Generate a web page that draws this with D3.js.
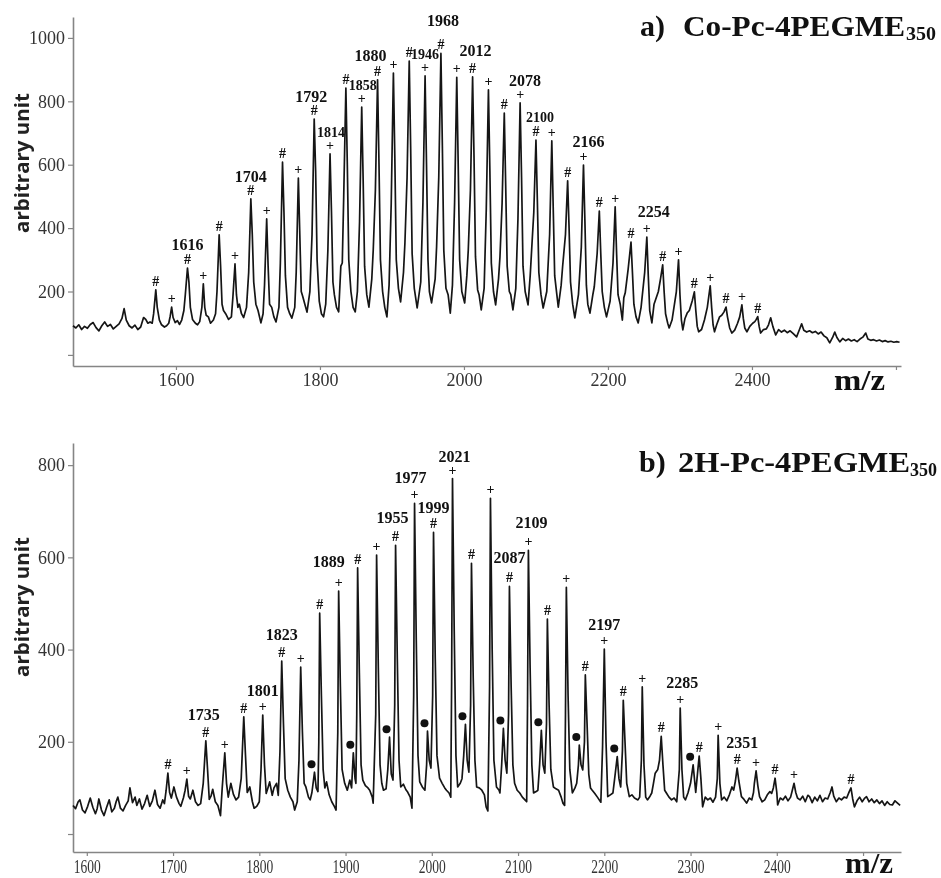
<!DOCTYPE html>
<html>
<head>
<meta charset="utf-8">
<script src="https://cdn.jsdelivr.net/npm/d3@7"></script>
<style>
  body { margin: 0; background: #fff; }
  svg { display: block; filter: grayscale(1); }
</style>
</head>
<body>
<div id="chart"></div>
<script>
// MALDI spectra, [m/z, intensity]

// a) Co-Pc-4PEGME350
const coTrace = [
  [1457,92],[1461,85],[1465,95],[1469,80],[1473,90],[1477,84],[1481,96],[1485,102],[1489,86],[1493,76],[1497,92],[1501,104],[1505,90],[1509,96],[1513,82],[1517,90],[1521,98],[1525,115],[1528,146],[1531,110],[1535,92],[1539,85],[1543,94],[1547,80],[1551,88],[1555,118],[1558,112],[1561,100],[1564,104],
  [1567,100],[1569,130],[1572,205],[1574,150],[1577,110],[1580,95],[1584,88],[1587,92],
  [1590,100],[1592,122],[1594,151],[1596,118],[1599,102],[1602,108],[1605,96],[1608,110],
  [1611,140],[1613,190],[1616,274],[1618,230],[1620,150],[1623,112],[1627,100],[1630,95],
  [1633,105],[1636,150],[1638,224],[1640,150],[1642,125],[1645,120],[1648,100],[1652,110],
  [1655,130],[1657,200],[1660,379],[1662,280],[1664,160],[1666,140],[1669,130],[1673,112],
  [1677,120],[1679,180],[1682,287],[1684,190],[1686,150],[1688,160],[1691,130],[1694,118],
  [1698,150],[1701,260],[1704,492],[1706,380],[1708,230],[1711,160],[1714,140],[1718,101],
  [1721,130],[1723,220],[1726,429],[1728,280],[1730,160],[1733,150],[1736,120],[1739,104],
  [1743,150],[1745,290],[1748,608],[1750,450],[1752,250],[1755,150],[1758,130],[1761,116],
  [1765,150],[1767,260],[1770,558],[1772,380],[1774,200],[1776,185],[1779,160],[1782,135],
  [1786,200],[1789,380],[1792,744],[1794,580],[1796,300],[1799,170],[1802,130],[1805,120],
  [1808,160],[1811,330],[1814,634],[1816,450],[1818,230],[1820,190],[1823,150],[1826,136],
  [1829,280],[1831,290],[1833,500],[1836,842],[1838,600],[1840,300],[1843,200],[1846,150],[1849,136],
  [1852,200],[1855,420],[1858,782],[1860,550],[1862,280],[1865,190],[1868,151],
  [1872,240],[1874,331],[1877,520],[1880,868],[1882,600],[1884,300],[1887,200],[1890,150],[1893,120],
  [1896,220],[1899,480],[1902,889],[1904,620],[1906,300],[1909,210],[1912,167],
  [1916,260],[1918,353],[1921,560],[1924,927],[1926,650],[1928,320],[1931,210],[1935,148],
  [1940,230],[1943,480],[1946,880],[1948,600],[1950,300],[1952,200],[1955,164],
  [1960,240],[1962,341],[1965,560],[1968,951],[1970,660],[1972,330],[1975,210],[1978,190],[1981,132],
  [1984,220],[1987,480],[1990,876],[1992,600],[1994,300],[1997,200],[2001,164],
  [2004,250],[2006,331],[2009,520],[2012,877],[2014,620],[2016,310],[2019,205],[2021,190],[2024,142],
  [2028,210],[2031,460],[2034,836],[2036,580],[2038,290],[2041,200],[2044,158],
  [2048,240],[2050,309],[2053,480],[2056,763],[2058,530],[2060,280],[2063,200],[2065,190],[2068,142],
  [2072,210],[2075,430],[2078,795],[2080,560],[2082,280],[2085,200],[2089,158],
  [2092,250],[2094,331],[2097,450],[2100,678],[2102,480],[2104,260],[2107,190],[2110,148],
  [2115,200],[2119,380],[2122,675],[2124,460],[2126,250],[2129,190],[2131,151],
  [2135,220],[2137,278],[2141,380],[2144,549],[2146,400],[2148,230],[2151,160],[2154,117],
  [2159,190],[2163,340],[2166,599],[2168,420],[2170,220],[2172,160],[2175,132],
  [2179,190],[2181,215],[2185,320],[2188,454],[2190,320],[2192,200],[2195,150],[2198,120],
  [2203,170],[2207,290],[2210,467],[2212,320],[2214,190],[2217,160],[2220,110],
  [2222,180],[2224,196],[2228,270],[2232,356],[2234,260],[2236,160],[2239,120],[2242,101],
  [2246,150],[2251,260],[2254,372],[2256,250],[2258,140],[2261,101],
  [2264,160],[2266,173],[2270,200],[2273,240],[2276,284],[2278,200],[2280,130],[2283,100],[2285,85],
  [2289,110],[2295,200],[2298,300],[2300,190],[2302,110],[2304,79],
  [2307,115],[2310,132],[2313,140],[2317,170],[2320,199],[2322,140],[2324,90],[2326,73],
  [2330,80],[2334,110],[2338,150],[2342,218],[2344,150],[2346,95],[2348,73],
  [2351,95],[2355,120],[2358,125],[2361,135],[2364,151],[2366,120],[2369,85],[2372,69],
  [2376,78],[2380,100],[2383,120],[2386,158],[2388,115],[2390,85],[2393,73],
  [2397,90],[2401,100],[2404,105],[2406,112],[2408,121],[2410,90],[2412,69],
  [2416,80],[2420,82],[2423,95],[2426,117],[2429,90],[2433,63],[2437,80],[2441,72],[2445,78],[2449,70],[2453,76],[2457,68],
  [2462,57],[2466,80],[2469,98],[2472,78],[2476,72],[2480,76],[2484,70],[2488,74],[2492,66],[2496,72],[2500,60],[2504,54],
  [2508,38],[2512,55],[2515,72],[2518,55],[2522,41],[2526,52],[2530,45],[2534,50],[2538,44],[2542,48],[2546,42],[2550,50],
  [2554,56],[2558,69],[2561,50],[2565,46],[2569,48],[2573,44],[2577,47],[2581,42],[2585,45],[2589,41],[2593,43],[2597,40],[2601,42],[2605,40]
];

const coPeaks = [
  [1572,"#"],[1594,"+"],[1616,"#"],[1638,"+"],[1660,"#"],[1682,"+"],[1704,"#"],[1726,"+"],
  [1748,"#"],[1770,"+"],[1792,"#"],[1814,"+"],[1836,"#"],[1858,"+"],[1880,"#"],[1902,"+"],
  [1924,"#"],[1946,"+"],[1968,"#"],[1990,"+"],[2012,"#"],[2034,"+"],[2056,"#"],[2078,"+"],
  [2100,"#"],[2122,"+"],[2144,"#"],[2166,"+"],[2188,"#"],[2210,"+"],[2232,"#"],[2254,"+"],
  [2276,"#"],[2298,"+"],[2320,"#"],[2342,"+"],[2364,"#"],[2386,"+"],[2408,"#"]
];

const coLabels = [
  ["1616",1616],["1704",1704],["1792",1792],["1814",1814],["1858",1858],["1880",1880],
  ["1946",1946],["1968",1968],["2012",2012],["2078",2078],["2100",2100],["2166",2166],["2254",2254]
];

// b) 2H-Pc-4PEGME350
const h2Trace = [
  [1584,62],[1587,55],[1590,70],[1592,74],[1595,52],[1598,46],[1601,60],[1604,78],[1607,58],[1610,44],[1612,55],[1614,76],[1617,52],[1620,40],
  [1623,58],[1626,74],[1629,48],[1632,56],[1634,70],[1636,80],[1639,56],[1642,50],[1645,62],[1648,72],[1650,100],[1653,68],[1656,80],[1658,62],
  [1661,76],[1664,54],[1667,66],[1670,84],[1673,60],[1676,72],[1679,95],[1682,64],[1685,56],[1688,74],[1690,66],
  [1692,95],[1694,132],[1696,90],[1698,78],[1701,102],[1704,80],[1707,66],[1709,60],
  [1712,78],[1714,95],[1716,119],[1718,82],[1720,76],[1723,95],[1726,70],[1729,62],[1732,66],
  [1735,110],[1738,202],[1740,140],[1742,75],[1744,82],[1746,97],[1749,70],[1752,62],[1755,40],
  [1757,100],[1760,176],[1762,110],[1764,80],[1767,110],[1770,86],[1773,74],[1776,80],
  [1779,120],[1782,254],[1784,170],[1786,90],[1789,102],[1792,70],[1794,56],[1797,60],[1800,70],
  [1802,140],[1804,258],[1806,150],[1808,88],[1810,100],[1812,113],[1815,84],[1817,100],[1820,110],[1822,84],
  [1824,180],[1826,375],[1828,240],[1830,120],[1833,95],[1836,80],[1839,70],[1841,52],[1844,70],
  [1846,160],[1848,362],[1850,220],[1852,110],[1854,102],[1857,80],[1859,74],[1861,90],[1864,134],[1866,100],[1868,92],
  [1869,200],[1870,479],[1872,300],[1874,140],[1876,100],[1878,113],[1881,85],[1884,70],[1887,60],[1889,52],
  [1891,220],[1892,527],[1894,320],[1896,140],[1899,110],[1902,95],[1905,117],[1907,100],[1909,176],[1911,120],[1912,110],
  [1913,260],[1914,577],[1916,350],[1918,150],[1920,117],[1923,105],[1926,100],[1928,95],[1931,80],[1932,67],
  [1935,260],[1936,605],[1938,360],[1940,150],[1942,110],[1944,95],[1947,98],[1949,140],[1951,210],[1953,130],[1955,117],
  [1957,280],[1958,626],[1960,380],[1962,160],[1964,102],[1967,108],[1970,96],[1972,91],[1975,80],[1977,56],
  [1979,300],[1980,717],[1982,420],[1984,170],[1986,113],[1989,102],[1992,95],[1994,150],[1995,223],[1997,160],[1999,143],
  [2001,300],[2002,654],[2004,380],[2006,170],[2009,121],[2012,110],[2015,100],[2017,95],[2020,89],[2022,80],
  [2023,330],[2024,771],[2026,440],[2028,170],[2030,102],[2033,110],[2035,120],[2037,170],[2039,238],[2041,160],[2043,134],
  [2045,280],[2046,587],[2048,340],[2050,160],[2052,102],[2055,100],[2058,95],[2061,85],[2063,59],[2065,50],
  [2067,320],[2068,728],[2070,400],[2072,160],[2075,102],[2078,95],[2079,89],[2081,150],[2083,229],[2085,160],[2087,132],
  [2089,260],[2090,537],[2092,320],[2094,150],[2096,110],[2099,95],[2102,89],[2105,80],[2108,74],[2110,70],
  [2111,280],[2112,615],[2114,360],[2116,150],[2118,89],[2121,92],[2123,95],[2125,150],[2127,225],[2129,150],[2131,132],
  [2133,240],[2134,466],[2136,280],[2138,140],[2141,102],[2144,98],[2147,95],[2150,80],[2152,67],[2154,62],
  [2155,260],[2156,535],[2158,300],[2160,140],[2163,89],[2166,100],[2168,110],[2170,150],[2171,193],[2173,150],[2175,139],
  [2177,200],[2178,345],[2180,240],[2182,130],[2184,100],[2186,95],[2189,88],[2192,80],[2196,69],
  [2198,190],[2200,401],[2202,200],[2204,81],[2207,85],[2210,89],[2212,120],[2215,168],[2217,120],[2219,102],
  [2221,180],[2222,290],[2224,200],[2226,110],[2229,81],[2232,85],[2235,78],[2239,74],[2241,80],
  [2243,160],[2244,319],[2246,150],[2248,80],[2250,74],[2253,82],[2255,89],[2257,110],[2259,132],[2262,140],
  [2264,160],[2266,212],[2268,150],[2270,95],[2272,89],[2275,80],[2278,74],[2281,78],[2284,70],
  [2287,140],[2288,273],[2290,140],[2292,80],[2294,74],[2297,89],[2300,110],[2303,150],[2305,110],[2306,90],
  [2308,130],[2310,169],[2312,120],[2314,59],[2317,80],[2320,74],[2323,78],[2326,69],[2329,80],
  [2331,120],[2332,214],[2334,110],[2336,74],[2339,80],[2342,72],[2345,85],[2348,102],[2350,95],
  [2352,115],[2354,143],[2356,115],[2359,81],[2362,75],[2365,67],[2368,78],[2371,74],[2373,90],
  [2374,110],[2376,137],[2378,105],[2380,81],[2383,70],[2386,74],[2389,85],[2392,92],[2394,88],
  [2396,100],[2398,121],[2400,90],[2401,63],[2404,78],[2407,74],[2410,82],[2413,72],[2416,80],
  [2418,95],[2420,110],[2422,90],[2424,78],[2427,74],[2430,82],[2433,70],[2436,84],[2438,81],[2441,68],[2444,80],[2447,72],
  [2450,84],[2453,70],[2456,78],[2459,76],[2462,90],[2464,102],[2466,82],[2469,70],[2472,78],[2475,74],[2478,80],[2481,78],
  [2484,92],[2486,100],[2488,76],[2490,59],[2493,72],[2496,80],[2499,70],[2502,78],[2504,81],[2507,70],[2510,76],[2513,68],
  [2516,74],[2519,66],[2522,72],[2525,62],[2528,70],[2531,64],[2534,63],[2537,72],[2540,67],[2543,62]
];

const h2Peaks = [
  [1694,"#"],[1716,"+"],[1738,"#"],[1760,"+"],[1782,"#"],[1804,"+"],[1826,"#"],[1848,"+"],
  [1870,"#"],[1892,"+"],[1914,"#"],[1936,"+"],[1958,"#"],[1980,"+"],[2002,"#"],[2024,"+"],
  [2046,"#"],[2068,"+"],[2090,"#"],[2112,"+"],[2134,"#"],[2156,"+"],[2178,"#"],[2200,"+"],
  [2222,"#"],[2244,"+"],[2266,"#"],[2288,"+"],[2310,"#"],[2332,"+"],[2354,"#"],[2376,"+"],
  [2398,"#"],[2420,"+"],[2486,"#"]
];

const h2Labels = [
  ["1735",1738],["1801",1804],["1823",1826],["1889",1892],["1955",1958],["1977",1980],["1999",2002],
  ["2021",2024],["2087",2090],["2109",2112],["2197",2200],["2285",2288],["2351",2354]
];

// small peaks marked with a filled dot
const h2Dots = [1864, 1909, 1951, 1995, 2039, 2083, 2127, 2171, 2215, 2303];

const coXTicks = [1600, 1800, 2000, 2200, 2400, 2600];
const coYTicks = [0, 200, 400, 600, 800, 1000];
const h2XTicks = [1600, 1700, 1800, 1900, 2000, 2100, 2200, 2300, 2400, 2500];
const h2YTicks = [0, 200, 400, 600, 800];

// label nudges [dx, dy, font size]
const coNudge = {
  "1616":[0,-1,16], "1704":[0,0,16], "1792":[-3,0,16], "1814":[1,0,14], "1858":[1,0,14],
  "1880":[-7,-2,16], "1946":[0,0,14], "1968":[2,-10,16], "2012":[3,-4,16], "2078":[5,0,16],
  "2100":[4,-1,14], "2166":[5,-1,16], "2254":[7,-3,16]
};
const h2Nudge = {
  "1735":[-2,-1,16], "1801":[0,1,16], "1823":[0,-1,16], "1889":[-10,-4,16], "1955":[-3,-2,16],
  "1977":[-4,0,16], "1999":[0,1,16], "2021":[2,3,16], "2087":[0,-3,16], "2109":[3,-2,16],
  "2197":[0,1,16], "2285":[2,0,16], "2351":[5,0,16]
};

const SERIF = "'Liberation Serif', 'Times New Roman', serif";
const SANS = "'Open Sans', 'Liberation Sans', sans-serif";

const svg = d3.select("#chart")
  .append("svg")
  .attr("width", 941)
  .attr("height", 878);

svg.append("rect").attr("width", 941).attr("height", 878).attr("fill", "#fff");

function valueAt(trace, mz) {
  const p = trace.find(d => d[0] === mz);
  return p ? p[1] : 0;
}

function drawPanel(cfg) {
  const x = d3.scaleLinear().domain(cfg.xDomain).range([73, 901]);
  const y = d3.scaleLinear().domain(cfg.yDomain).range([cfg.axisY, cfg.topY]);

  // Axes
  const gx = svg.append("g")
    .attr("transform", `translate(0,${cfg.axisY})`)
    .call(d3.axisBottom(x)
      .tickValues(cfg.xTicks)
      .tickSize(4)
      .tickSizeOuter(0)
      .tickPadding(cfg.xPad)
      .tickFormat(d => d <= 2400 ? d : ""));

  const gy = svg.append("g")
    .attr("transform", "translate(73,0)")
    .call(d3.axisLeft(y)
      .tickValues(cfg.yTicks)
      .tickSize(5)
      .tickSizeOuter(0)
      .tickPadding(3)
      .tickFormat(d => d === 0 ? "" : d));

  [gx, gy].forEach(g => {
    g.select(".domain").attr("stroke", "#858585").attr("stroke-width", 1.6);
    g.selectAll(".tick line").attr("stroke", "#858585").attr("stroke-width", 1.2);
    g.selectAll(".tick text")
      .attr("font-family", SERIF)
      .attr("font-size", 18)
      .attr("fill", "#333");
  });

  if (cfg.xLabelLen) {
    gx.selectAll(".tick text")
      .filter(function() { return this.textContent !== ""; })
      .attr("textLength", cfg.xLabelLen)
      .attr("lengthAdjust", "spacingAndGlyphs");
  }

  // Axis titles
  svg.append("text")
    .attr("transform", `translate(29,${cfg.yTitleY}) rotate(-90)`)
    .attr("text-anchor", "middle")
    .attr("font-family", SANS)
    .attr("font-weight", 700)
    .attr("font-size", 20)
    .attr("textLength", 140)
    .attr("lengthAdjust", "spacingAndGlyphs")
    .attr("fill", "#222")
    .text("arbitrary unit");

  svg.append("text")
    .attr("x", cfg.mz[0])
    .attr("y", cfg.mz[1])
    .attr("font-family", SERIF)
    .attr("font-weight", 700)
    .attr("font-size", 30)
    .attr("textLength", cfg.mz[2])
    .attr("lengthAdjust", "spacingAndGlyphs")
    .attr("fill", "#111")
    .text("m/z");

  // Spectrum
  const line = d3.line()
    .x(d => x(d[0]))
    .y(d => y(d[1]));

  svg.append("path")
    .datum(cfg.trace)
    .attr("fill", "none")
    .attr("stroke", "#151515")
    .attr("stroke-width", 1.7)
    .attr("stroke-linejoin", "round")
    .attr("d", line);

  // # and + markers over the peaks
  svg.append("g")
    .selectAll("text")
    .data(cfg.peaks)
    .join("text")
    .attr("x", d => x(d[0]))
    .attr("y", d => y(valueAt(cfg.trace, d[0])) - 4)
    .attr("text-anchor", "middle")
    .attr("font-family", SERIF)
    .attr("font-weight", 700)
    .attr("font-size", 14)
    .attr("fill", "#111")
    .text(d => d[1]);

  // m/z labels
  svg.append("g")
    .selectAll("text")
    .data(cfg.labels)
    .join("text")
    .attr("x", d => x(d[1]) + cfg.nudge[d[0]][0])
    .attr("y", d => y(valueAt(cfg.trace, d[1])) - cfg.labelRise + cfg.nudge[d[0]][1])
    .attr("text-anchor", "middle")
    .attr("font-family", SERIF)
    .attr("font-weight", 700)
    .attr("font-size", d => cfg.nudge[d[0]][2])
    .attr("fill", "#111")
    .text(d => d[0]);

  // dots
  svg.append("g")
    .selectAll("circle")
    .data(cfg.dots)
    .join("circle")
    .attr("cx", d => x(d) - 3)
    .attr("cy", d => y(valueAt(cfg.trace, d)) - 8)
    .attr("r", 4)
    .attr("fill", "#111");

  // Panel title
  const t = cfg.title;
  svg.append("text")
    .attr("x", t.x[0]).attr("y", t.y)
    .attr("font-family", SERIF).attr("font-weight", 700).attr("font-size", 30)
    .attr("fill", "#111")
    .text(t.tag);
  svg.append("text")
    .attr("x", t.x[1]).attr("y", t.y)
    .attr("font-family", SERIF).attr("font-weight", 700).attr("font-size", 30)
    .attr("textLength", t.len).attr("lengthAdjust", "spacingAndGlyphs")
    .attr("fill", "#111")
    .text(t.name);
  svg.append("text")
    .attr("x", t.x[2]).attr("y", t.y + 4)
    .attr("font-family", SERIF).attr("font-weight", 700).attr("font-size", 18)
    .attr("textLength", t.subLen).attr("lengthAdjust", "spacingAndGlyphs")
    .attr("fill", "#111")
    .text(t.sub);
}

drawPanel({
  trace: coTrace, peaks: coPeaks, labels: coLabels, nudge: coNudge, dots: [],
  xDomain: [1457, 2607], yDomain: [-35, 1066], axisY: 366, topY: 17,
  xTicks: coXTicks, yTicks: coYTicks, xPad: 3, xLabelLen: null,
  labelRise: 17, yTitleY: 163, mz: [834, 390, 51],
  title: { tag: "a)", name: "Co-Pc-4PEGME", sub: "350", x: [640, 683, 906], y: 36, len: 222, subLen: 30 }
});

drawPanel({
  trace: h2Trace, peaks: h2Peaks, labels: h2Labels, nudge: h2Nudge, dots: h2Dots,
  xDomain: [1584, 2544], yDomain: [-39, 848], axisY: 852, topY: 443,
  xTicks: h2XTicks, yTicks: h2YTicks, xPad: 4, xLabelLen: 27,
  labelRise: 20, yTitleY: 607, mz: [845, 873, 48],
  title: { tag: "b)", name: "2H-Pc-4PEGME", sub: "350", x: [639, 678, 910], y: 472, len: 232, subLen: 27 }
});
</script>
</body>
</html>
